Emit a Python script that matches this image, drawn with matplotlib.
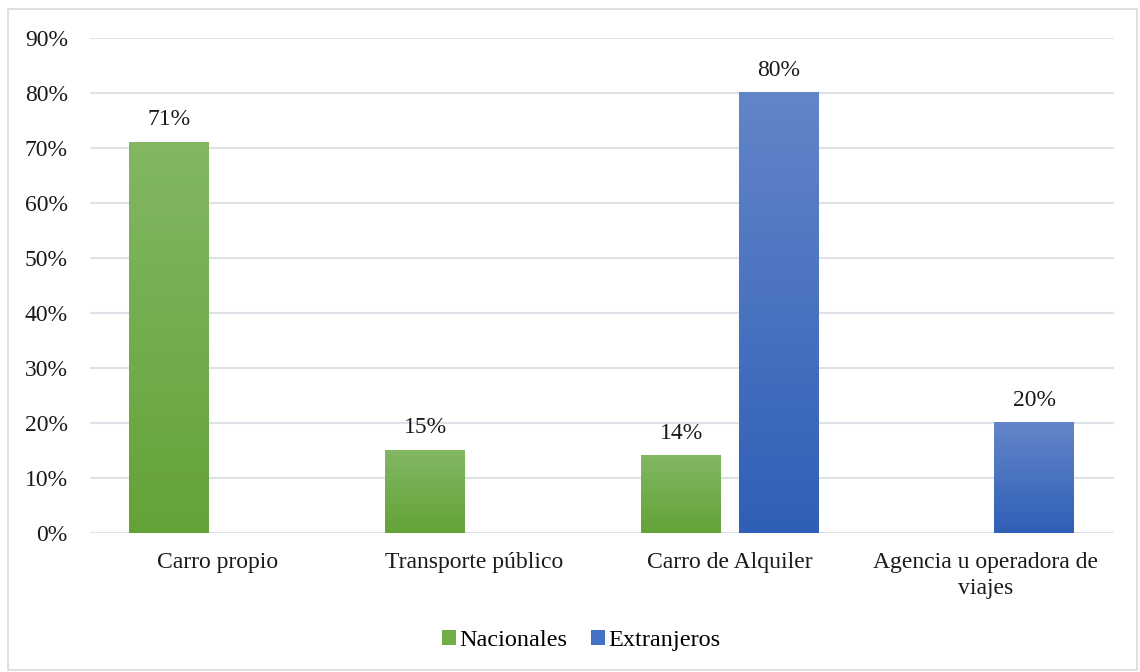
import matplotlib.pyplot as plt
import numpy as np
from matplotlib.colors import LinearSegmentedColormap
from matplotlib.patches import Patch, Rectangle

plt.rcParams['font.family'] = ['Liberation Serif', 'DejaVu Serif']

categorias = ['Carro propio', 'Transporte público', 'Carro de Alquiler',
              'Agencia u operadora de\nviajes']
nacionales = [71, 15, 14, 0]
extranjeros = [0, 0, 80, 20]
yticks = [0, 10, 20, 30, 40, 50, 60, 70, 80, 90]

verde = ('#63a336', '#82b764')
azul = ('#2f5fb6', '#6385c9')
fs = 17

fig = plt.figure(figsize=(11.4, 6.72), dpi=100)
fig.patches.append(Rectangle((0.007, 0.003), 0.99, 0.984, transform=fig.transFigure,
                             fill=False, edgecolor='#d9d9d9', lw=1.2))
ax = fig.add_axes([0.079, 0.207, 0.898, 0.737])

x = np.arange(len(categorias))
ancho = 0.3125
desp = 0.19


def barras(pos, valores, colores):
    cmap = LinearSegmentedColormap.from_list('g', list(colores))
    grad = np.linspace(0, 1, 256).reshape(-1, 1)
    for xi, v in zip(pos, valores):
        if v <= 0:
            continue
        ax.imshow(grad, cmap=cmap, origin='lower', aspect='auto',
                  extent=(xi - ancho / 2, xi + ancho / 2, 0, v), zorder=3)
        ax.text(xi, v + 2.2, f'{v}%', ha='center', va='bottom', fontsize=fs,
                color='#1a1a1a')


barras(x - desp, nacionales, verde)
barras(x + desp, extranjeros, azul)

ax.set_xlim(-0.5, len(categorias) - 0.5)
ax.set_ylim(0, 90)
ax.set_yticks(yticks)
ax.set_yticklabels([f'{t}%' for t in yticks], fontsize=fs, color='#1a1a1a')
ax.set_xticks(x)
ax.set_xticklabels(categorias, fontsize=fs, color='#1a1a1a', linespacing=1.3)
ax.tick_params(length=0)
ax.tick_params(axis='x', pad=14)
ax.tick_params(axis='y', pad=16)
ax.grid(axis='y', color='#dde1e8', lw=1.5, zorder=0)
ax.set_axisbelow(True)
for s in ax.spines.values():
    s.set_visible(False)
ax.axhline(0, color='#dde1e8', lw=1.5, zorder=1)

handles = [Patch(facecolor='#70ad47', label='Nacionales'),
           Patch(facecolor='#4472c4', label='Extranjeros')]
fig.legend(handles=handles, loc='center', bbox_to_anchor=(0.51, 0.047), ncol=2,
           frameon=False, fontsize=17.5, handlelength=0.55, handleheight=0.55,
           handletextpad=0.15, columnspacing=1.0)

fig.savefig('out.png', dpi=100)
